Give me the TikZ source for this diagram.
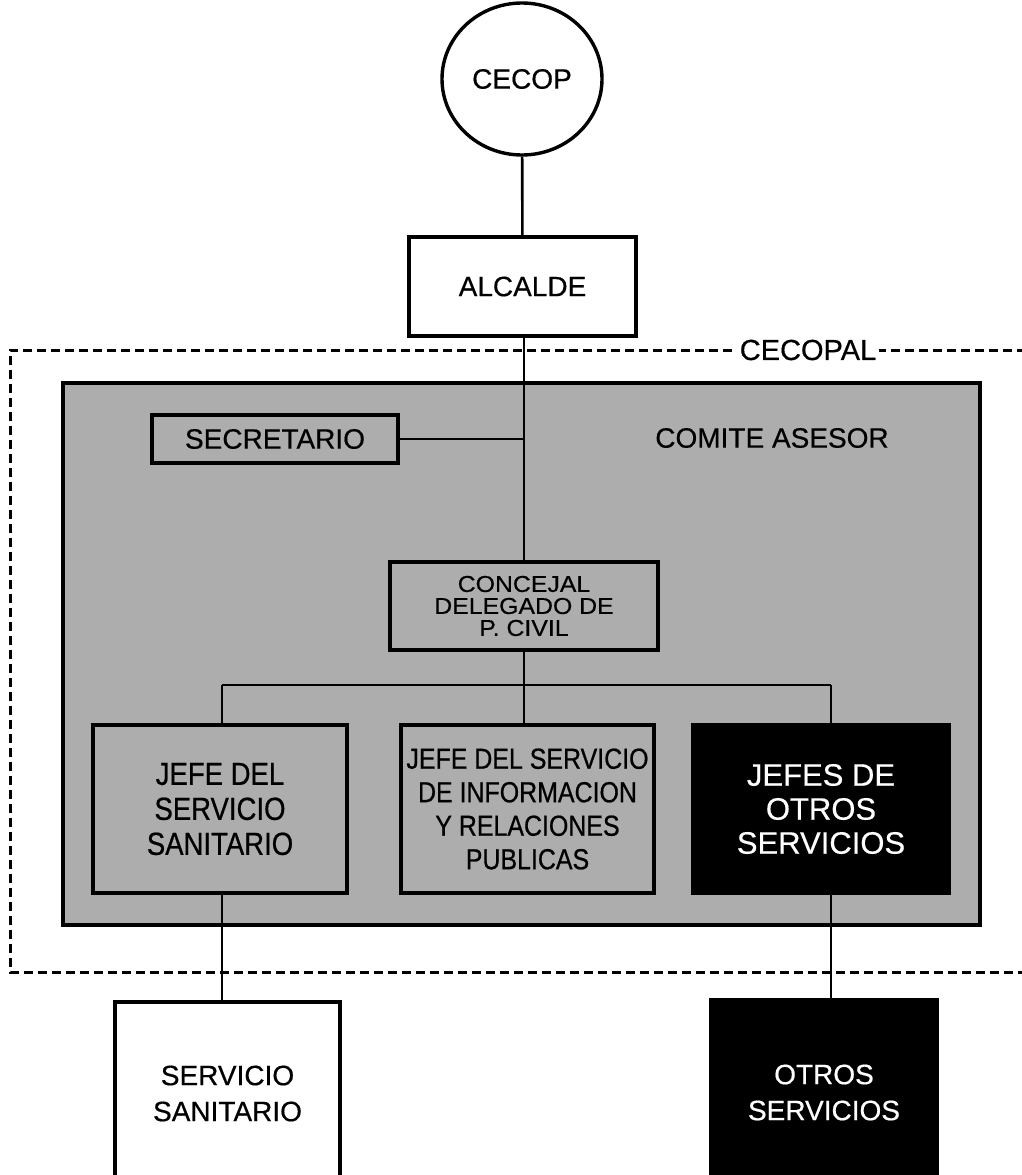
\documentclass[tikz,border=0pt]{standalone}
\usepackage{fontspec}
\setmainfont{Liberation Sans}[FakeBold=0.5]
\newfontfamily\basefont[FakeBold=0.5]{Liberation Sans}
\newfontfamily\condfont[FakeStretch=0.86,FakeBold=0.6]{Liberation Sans}
\newfontfamily\widefont[FakeStretch=1.08,FakeBold=0.5]{Liberation Sans}
\usetikzlibrary{shapes.geometric}
\tikzset{
  frame/.style={draw, line width=3.4pt, rectangle, inner sep=0pt, align=center},
  plainbox/.style={frame, fill=white},
  graybox/.style={frame, fill=black!32},
  blackbox/.style={frame, fill=black, text=white},
  conn/.style={line width=2.6pt},
  txtA/.style={font=\basefont\fontsize{28}{36}\selectfont},
  txtB/.style={font=\condfont\fontsize{32}{35}\selectfont},
  txtC/.style={font=\condfont\fontsize{29}{33.5}\selectfont},
  txtD/.style={font=\widefont\fontsize{23}{22}\selectfont},
}
\begin{document}
\begin{tikzpicture}[x=1pt,y=-1pt]
\useasboundingbox (0,0) rectangle (1021,1175);
% CECOPAL dashed frame
\draw[line width=3pt, dash pattern=on 9pt off 5pt] (1040,350) -- (10,350) -- (10,972) -- (1040,972);
\node[fill=white, inner xsep=3pt, inner ysep=1pt, font=\basefont\fontsize{29}{30}\selectfont] (cecopal) at (808,350) {CECOPAL};
% comite
\node[graybox, minimum width=917pt, minimum height=542pt] (comite) at (521.5,654) {};
\node[font=\basefont\fontsize{28}{30}\selectfont] (comitelbl) at (772,438) {COMITE ASESOR};
% top
\node[draw, line width=3.4pt, ellipse, fill=white, minimum width=160pt, minimum height=152pt, inner sep=0pt, txtA] (cecop) at (522,79) {CECOP};
\node[plainbox, minimum width=227pt, minimum height=99pt, txtA] (alcalde) at (522.5,286.5) {ALCALDE};
\node[graybox, minimum width=246pt, minimum height=48pt, txtA] (secretario) at (275,439) {SECRETARIO};
\node[graybox, minimum width=268pt, minimum height=88pt, txtD] (concejal) at (524,606) {CONCEJAL\\DELEGADO DE\\P. CIVIL};
% jefes
\node[graybox, minimum width=254pt, minimum height=168pt, txtB] (jefesan) at (220,809) {JEFE DEL\\SERVICIO\\SANITARIO};
\node[graybox, minimum width=253pt, minimum height=168pt, txtC] (jeferel) at (527.5,809) {JEFE DEL SERVICIO\\DE INFORMACION\\Y RELACIONES\\PUBLICAS};
\node[blackbox, minimum width=256pt, minimum height=168pt, font=\basefont\fontsize{31}{34}\selectfont] (jefesotros) at (821,809) {JEFES DE\\OTROS\\SERVICIOS};
% bottom
\node[plainbox, minimum width=225pt, minimum height=183pt, txtA] (servsan) at (227.5,1093.5) {SERVICIO\\SANITARIO};
\node[blackbox, minimum width=226pt, minimum height=185pt, txtA] (otros) at (824,1092.5) {OTROS\\SERVICIOS};
% connectors
\coordinate (busL) at (222,685);
\coordinate (busR) at (831,685);
\draw[conn] (cecop) -- (alcalde);
\draw[conn] (alcalde.south -| concejal.north) -- (concejal.north);
\draw[conn] (secretario.east) -- (secretario.east -| concejal.north);
\draw[conn] (concejal.south) -- (concejal.south |- jeferel.north);
\draw[conn] (busL) -- (busR);
\draw[conn] (busL) -- (busL |- jefesan.north);
\draw[conn] (busR) -- (busR |- jefesotros.north);
\draw[conn] (busL |- jefesan.south) -- (busL |- servsan.north);
\draw[conn] (busR |- jefesotros.south) -- (busR |- otros.north);
\end{tikzpicture}
\end{document}
